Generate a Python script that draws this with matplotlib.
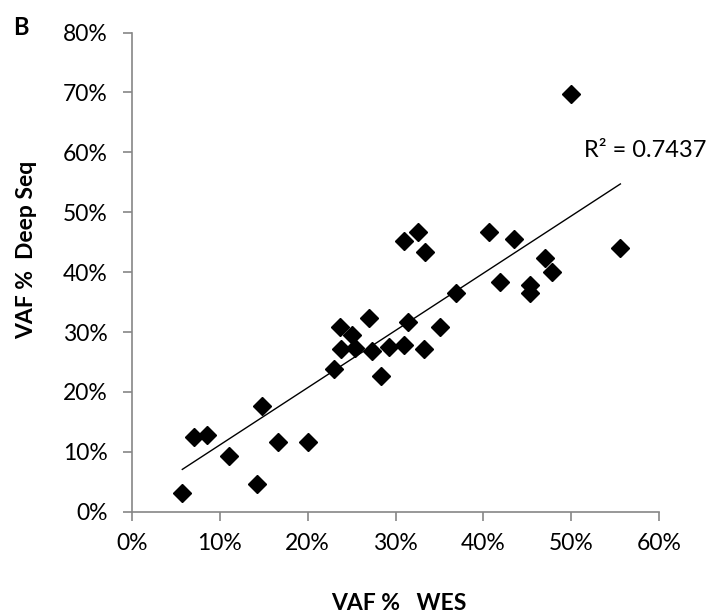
import numpy as np
import matplotlib
matplotlib.use("Agg")
import matplotlib.pyplot as plt
from matplotlib.ticker import PercentFormatter

plt.rcParams["font.family"] = ["Lato", "DejaVu Sans"]

# VAF from whole exome sequencing vs. targeted deep sequencing
vaf_wes = [0.0575, 0.0712, 0.0859, 0.111, 0.1428, 0.148, 0.1666, 0.200,
           0.230, 0.2367, 0.2378, 0.250, 0.2538, 0.2697, 0.273, 0.283,
           0.2927, 0.3094, 0.3143, 0.3325, 0.3503, 0.3685, 0.3094, 0.3257,
           0.3333, 0.4064, 0.4348, 0.4193, 0.4697, 0.478, 0.4534, 0.4526,
           0.500, 0.5557]
vaf_deep = [0.032, 0.124, 0.128, 0.093, 0.0467, 0.176, 0.117, 0.116,
            0.239, 0.309, 0.2716, 0.295, 0.2728, 0.323, 0.269, 0.2265,
            0.2745, 0.278, 0.316, 0.271, 0.309, 0.3656, 0.4514, 0.4664,
            0.433, 0.4675, 0.4548, 0.3835, 0.424, 0.400, 0.3785, 0.3656,
            0.6973, 0.4407]
r2_label = "R\u00b2 = 0.7437"

x = np.array(vaf_wes)
y = np.array(vaf_deep)

fig = plt.figure(figsize=(7.06, 6.15), dpi=100)
ax = fig.add_axes([0.1866, 0.168, 0.7473, 0.779])

ax.plot(x, y, linestyle="none", marker="D", ms=8.8, color="black")

# linear trend line across the data range
slope, intercept = np.polyfit(x, y, 1)
xs = np.array([x.min(), x.max()])
ax.plot(xs, slope * xs + intercept, color="black", lw=1.0)

ax.text(0.514, 0.592, r2_label, fontsize=17, ha="left", va="baseline")

ax.set_xlim(0, 0.6)
ax.set_ylim(0, 0.8)
ax.set_xticks(np.arange(0, 0.61, 0.1))
ax.set_yticks(np.arange(0, 0.81, 0.1))
ax.xaxis.set_major_formatter(PercentFormatter(1.0, decimals=0))
ax.yaxis.set_major_formatter(PercentFormatter(1.0, decimals=0))

for side in ["top", "right"]:
    ax.spines[side].set_visible(False)
for side in ["left", "bottom"]:
    ax.spines[side].set_color("#868686")
    ax.spines[side].set_linewidth(1.2)
ax.tick_params(axis="both", direction="out", length=6.5, width=1.2,
               color="#868686", labelsize=16.5)
ax.tick_params(axis="x", pad=9)
ax.tick_params(axis="y", pad=11)

fig.text(0.565, 0.008, "VAF %   WES", fontsize=16.5, fontweight="bold",
         ha="center", va="baseline")
fig.text(0.038, 1 - 250 / 615, "VAF %  Deep Seq", fontsize=16.5,
         fontweight="bold", rotation=90, ha="center", va="center")
fig.text(0.018, 0.943, "B", fontsize=17, fontweight="bold",
         ha="left", va="baseline")

fig.savefig("out.png", dpi=100)
